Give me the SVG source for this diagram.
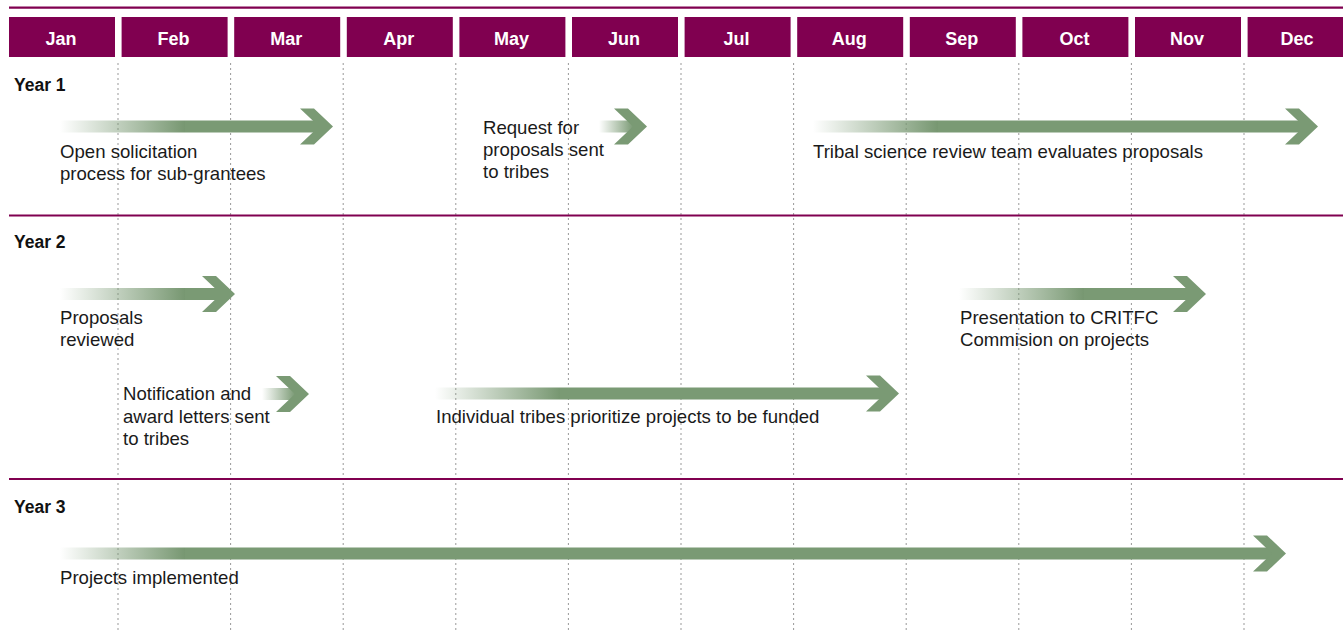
<svg xmlns="http://www.w3.org/2000/svg" xmlns:xlink="http://www.w3.org/1999/xlink" width="1343" height="630" viewBox="0 0 1343 630">
<style>
.hdr{fill:#800050}
.mon{font-family:"Liberation Sans",Arial,sans-serif;font-weight:bold;font-size:18px;fill:#fff;text-anchor:middle}
.yr{font-family:"Liberation Sans",Arial,sans-serif;font-weight:bold;font-size:17.5px;fill:#111}
.lbl{font-family:"Liberation Sans",Arial,sans-serif;font-size:18.6px;fill:#1a1a1a}
.sep{stroke:#800050;stroke-width:2.2;fill:none}
.grid{stroke:#999;stroke-width:1;stroke-dasharray:2 3;fill:none}
.solid{fill:#7a9a74}
.fade{fill:url(#fade)}
</style>
<defs>
<linearGradient id="fade" x1="0" y1="0" x2="1" y2="0">
<stop offset="0" stop-color="#7a9a74" stop-opacity="0"/>
<stop offset="1" stop-color="#779771"/>
</linearGradient>
<polygon id="chev" class="solid" points="-33,-18 -19,-18 0,0 -19,18 -33,18 -14,0"/>
</defs>
<rect width="1343" height="630" fill="#fff"/>
<g id="grid">
<line class="grid" x1="118" y1="63" x2="118" y2="630"/>
<line class="grid" x1="230.6" y1="63" x2="230.6" y2="630"/>
<line class="grid" x1="343.2" y1="63" x2="343.2" y2="630"/>
<line class="grid" x1="455.8" y1="63" x2="455.8" y2="630"/>
<line class="grid" x1="568.4" y1="63" x2="568.4" y2="630"/>
<line class="grid" x1="681" y1="63" x2="681" y2="630"/>
<line class="grid" x1="793.6" y1="63" x2="793.6" y2="630"/>
<line class="grid" x1="906.2" y1="63" x2="906.2" y2="630"/>
<line class="grid" x1="1018.8" y1="63" x2="1018.8" y2="630"/>
<line class="grid" x1="1131.4" y1="63" x2="1131.4" y2="630"/>
<line class="grid" x1="1244" y1="63" x2="1244" y2="630"/>
</g>
<g id="separators">
<line class="sep" x1="9" y1="7.7" x2="1343" y2="7.7"/>
<line class="sep" x1="9" y1="215.5" x2="1343" y2="215.5"/>
<line class="sep" x1="9" y1="479" x2="1343" y2="479"/>
</g>
<g id="months">
<g id="m-jan"><rect class="hdr" x="9" y="17" width="106" height="40"/><text class="mon" x="61" y="45">Jan</text></g>
<g id="m-feb"><rect class="hdr" x="121.6" y="17" width="106" height="40"/><text class="mon" x="173.6" y="45">Feb</text></g>
<g id="m-mar"><rect class="hdr" x="234.2" y="17" width="106" height="40"/><text class="mon" x="286.2" y="45">Mar</text></g>
<g id="m-apr"><rect class="hdr" x="346.8" y="17" width="106" height="40"/><text class="mon" x="398.8" y="45">Apr</text></g>
<g id="m-may"><rect class="hdr" x="459.4" y="17" width="106" height="40"/><text class="mon" x="511.4" y="45">May</text></g>
<g id="m-jun"><rect class="hdr" x="572" y="17" width="106" height="40"/><text class="mon" x="624" y="45">Jun</text></g>
<g id="m-jul"><rect class="hdr" x="684.6" y="17" width="106" height="40"/><text class="mon" x="736.6" y="45">Jul</text></g>
<g id="m-aug"><rect class="hdr" x="797.2" y="17" width="106" height="40"/><text class="mon" x="849.2" y="45">Aug</text></g>
<g id="m-sep"><rect class="hdr" x="909.8" y="17" width="106" height="40"/><text class="mon" x="961.8" y="45">Sep</text></g>
<g id="m-oct"><rect class="hdr" x="1022.4" y="17" width="106" height="40"/><text class="mon" x="1074.4" y="45">Oct</text></g>
<g id="m-nov"><rect class="hdr" x="1135" y="17" width="106" height="40"/><text class="mon" x="1187" y="45">Nov</text></g>
<g id="m-dec"><rect class="hdr" x="1247.6" y="17" width="106" height="40"/><text class="mon" x="1297" y="45">Dec</text></g>
</g>
<g id="years">
<text class="yr" x="14" y="91">Year 1</text>
<text class="yr" x="14" y="248">Year 2</text>
<text class="yr" x="14" y="513">Year 3</text>
</g>
<g id="connectors">
<g id="a1"><rect class="fade" x="60" y="120.5" width="125" height="12"/><rect class="solid" x="185" y="120.5" width="135" height="12"/><use xlink:href="#chev" x="333" y="126.5"/></g>
<g id="a2"><rect class="fade" x="599" y="120.5" width="35" height="12"/><use xlink:href="#chev" x="647" y="126.5"/></g>
<g id="a3"><rect class="fade" x="813" y="120.5" width="125" height="12"/><rect class="solid" x="938" y="120.5" width="367" height="12"/><use xlink:href="#chev" x="1318" y="126.5"/></g>
<g id="a4"><rect class="fade" x="60" y="288" width="125" height="12"/><rect class="solid" x="185" y="288" width="37" height="12"/><use xlink:href="#chev" x="235" y="294"/></g>
<g id="a5"><rect class="fade" x="959" y="288" width="125" height="12"/><rect class="solid" x="1084" y="288" width="109" height="12"/><use xlink:href="#chev" x="1206" y="294"/></g>
<g id="a6"><rect class="fade" x="262" y="388" width="34" height="12"/><use xlink:href="#chev" x="309" y="394"/></g>
<g id="a7"><rect class="fade" x="435" y="387.5" width="125" height="12"/><rect class="solid" x="560" y="387.5" width="326" height="12"/><use xlink:href="#chev" x="899" y="393.5"/></g>
<g id="a8"><rect class="fade" x="60" y="547.5" width="125" height="12"/><rect class="solid" x="185" y="547.5" width="1088" height="12"/><use xlink:href="#chev" x="1286" y="553.5"/></g>
</g>
<g id="n-open"><text class="lbl" x="60" y="158">Open solicitation</text><text class="lbl" x="60" y="180">process for sub-grantees</text></g>
<g id="n-request"><text class="lbl" x="483" y="134">Request for</text><text class="lbl" x="483" y="156">proposals sent</text><text class="lbl" x="483" y="178">to tribes</text></g>
<g id="n-tribal"><text class="lbl" x="813" y="158">Tribal science review team evaluates proposals</text></g>
<g id="n-proposals"><text class="lbl" x="60" y="324">Proposals</text><text class="lbl" x="60" y="346">reviewed</text></g>
<g id="n-presentation"><text class="lbl" x="960" y="324">Presentation to CRITFC</text><text class="lbl" x="960" y="346">Commision on projects</text></g>
<g id="n-notification"><text class="lbl" x="123" y="400">Notification and</text><text class="lbl" x="123" y="423">award letters sent</text><text class="lbl" x="123" y="445">to tribes</text></g>
<g id="n-individual"><text class="lbl" x="436" y="423">Individual tribes prioritize projects to be funded</text></g>
<g id="n-implemented"><text class="lbl" x="60" y="584">Projects implemented</text></g>
</svg>
